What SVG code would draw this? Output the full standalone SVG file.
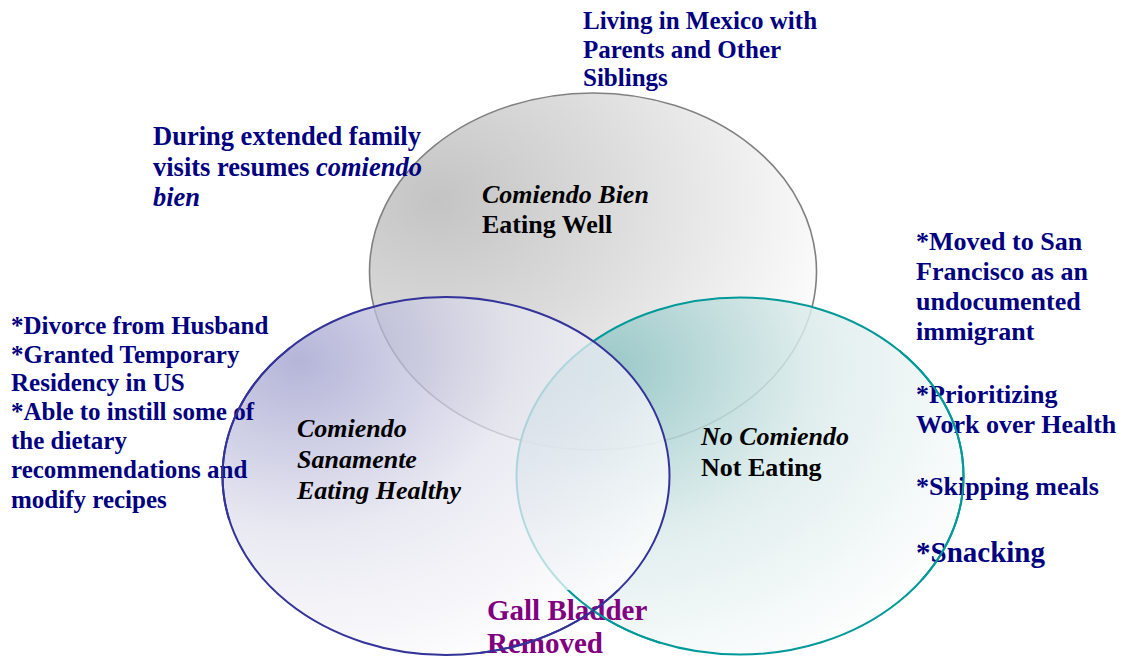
<svg xmlns="http://www.w3.org/2000/svg" width="1127" height="660" viewBox="0 0 1127 660">
<style>
  .t { font-family: "Liberation Serif", "Times New Roman", serif; font-weight: bold; }
  .navy { fill: #000080; }
  .blk { fill: #000000; }
  .pur { fill: #800080; }
  .it { font-style: italic; }
</style>
<defs>
  <radialGradient id="gGray" cx="0.15" cy="0.3" r="0.9">
    <stop offset="0" stop-color="#c4c4c4"/>
    <stop offset="0.45" stop-color="#dcdcdc"/>
    <stop offset="1" stop-color="#fcfcfc"/>
  </radialGradient>
  <radialGradient id="gTeal" cx="0.2" cy="0.2" r="0.95">
    <stop offset="0" stop-color="#8cc2c2"/>
    <stop offset="0.5" stop-color="#dcebeb"/>
    <stop offset="1" stop-color="#ffffff"/>
  </radialGradient>
  <radialGradient id="gBlue" cx="0.17" cy="0.18" r="0.95">
    <stop offset="0" stop-color="#9c9ccc"/>
    <stop offset="0.5" stop-color="#e2e2ee"/>
    <stop offset="1" stop-color="#ffffff"/>
  </radialGradient>
  <clipPath id="textAreas">
    <rect x="0" y="305" width="290" height="215"/>
    <rect x="900" y="220" width="227" height="360"/>
    <rect x="480" y="590" width="180" height="70"/>
  </clipPath>
</defs>
<rect width="1127" height="660" fill="#ffffff"/>

<g id="circles">
  <g id="node-comiendo-bien">
    <ellipse cx="593" cy="271.5" rx="223.5" ry="178.5" fill="url(#gGray)" stroke="#808080" stroke-width="1.6"/>
  </g>
  <g id="node-no-comiendo">
    <ellipse cx="740" cy="476" rx="223.5" ry="178.5" fill="url(#gTeal)" fill-opacity="0.85" stroke="#009999" stroke-width="2"/>
  </g>
  <g id="node-comiendo-sanamente">
    <ellipse cx="446" cy="476" rx="223.5" ry="179" fill="url(#gBlue)" fill-opacity="0.75" stroke="#333399" stroke-width="2"/>
  </g>
</g>

<g id="outer-texts">
  <g id="label-mexico">
    <text class="t navy" font-size="25" x="583" y="29">Living in Mexico with</text>
    <text class="t navy" font-size="25" x="583" y="58">Parents and Other</text>
    <text class="t navy" font-size="25" x="583" y="86">Siblings</text>
  </g>
  <g id="label-family">
    <text class="t navy" font-size="26.5" x="153" y="145">During extended family</text>
    <text class="t navy" font-size="26.5" x="153" y="176">visits resumes <tspan class="it">comiendo</tspan></text>
    <text class="t navy it" font-size="26.5" x="153" y="206">bien</text>
  </g>
  <g id="label-divorce">
    <text class="t navy" font-size="25" x="11" y="334">*Divorce from Husband</text>
    <text class="t navy" font-size="25" x="11" y="363">*Granted Temporary</text>
    <text class="t navy" font-size="25" x="11" y="391">Residency in US</text>
    <text class="t navy" font-size="25" x="11" y="420">*Able to instill some of</text>
    <text class="t navy" font-size="25" x="11" y="449">the dietary</text>
    <text class="t navy" font-size="25" x="11" y="478">recommendations and</text>
    <text class="t navy" font-size="25" x="11" y="508">modify recipes</text>
  </g>
  <g id="label-sf">
    <text class="t navy" font-size="26" x="916" y="250">*Moved to San</text>
    <text class="t navy" font-size="26" x="916" y="280">Francisco as an</text>
    <text class="t navy" font-size="26" x="916" y="310">undocumented</text>
    <text class="t navy" font-size="26" x="916" y="340">immigrant</text>
    <text class="t navy" font-size="26" x="916" y="403">*Prioritizing</text>
    <text class="t navy" font-size="26" x="916" y="433">Work over Health</text>
    <text class="t navy" font-size="26" x="916" y="495">*Skipping meals</text>
    <text class="t navy" font-size="29" x="916" y="562">*Snacking</text>
  </g>
  <g id="label-gall">
    <text class="t pur" font-size="29" x="487" y="620">Gall Bladder</text>
    <text class="t pur" font-size="29" x="487" y="653">Removed</text>
  </g>
</g>

<g id="stroke-overlay" clip-path="url(#textAreas)" fill="none">
  <ellipse cx="740" cy="476" rx="223.5" ry="178.5" stroke="#009999" stroke-width="2"/>
  <ellipse cx="446" cy="476" rx="223.5" ry="179" stroke="#333399" stroke-width="2"/>
</g>

<g id="inner-texts">
  <g id="label-bien">
    <text class="t blk it" font-size="26" x="482" y="203">Comiendo Bien</text>
    <text class="t blk" font-size="26" x="482" y="233">Eating Well</text>
  </g>
  <g id="label-sanamente">
    <text class="t blk it" font-size="26" x="297" y="437">Comiendo</text>
    <text class="t blk it" font-size="26" x="297" y="468">Sanamente</text>
    <text class="t blk it" font-size="26" x="297" y="499">Eating Healthy</text>
  </g>
  <g id="label-no">
    <text class="t blk it" font-size="26" x="701" y="445">No Comiendo</text>
    <text class="t blk" font-size="26" x="701" y="476">Not Eating</text>
  </g>
</g>
</svg>
